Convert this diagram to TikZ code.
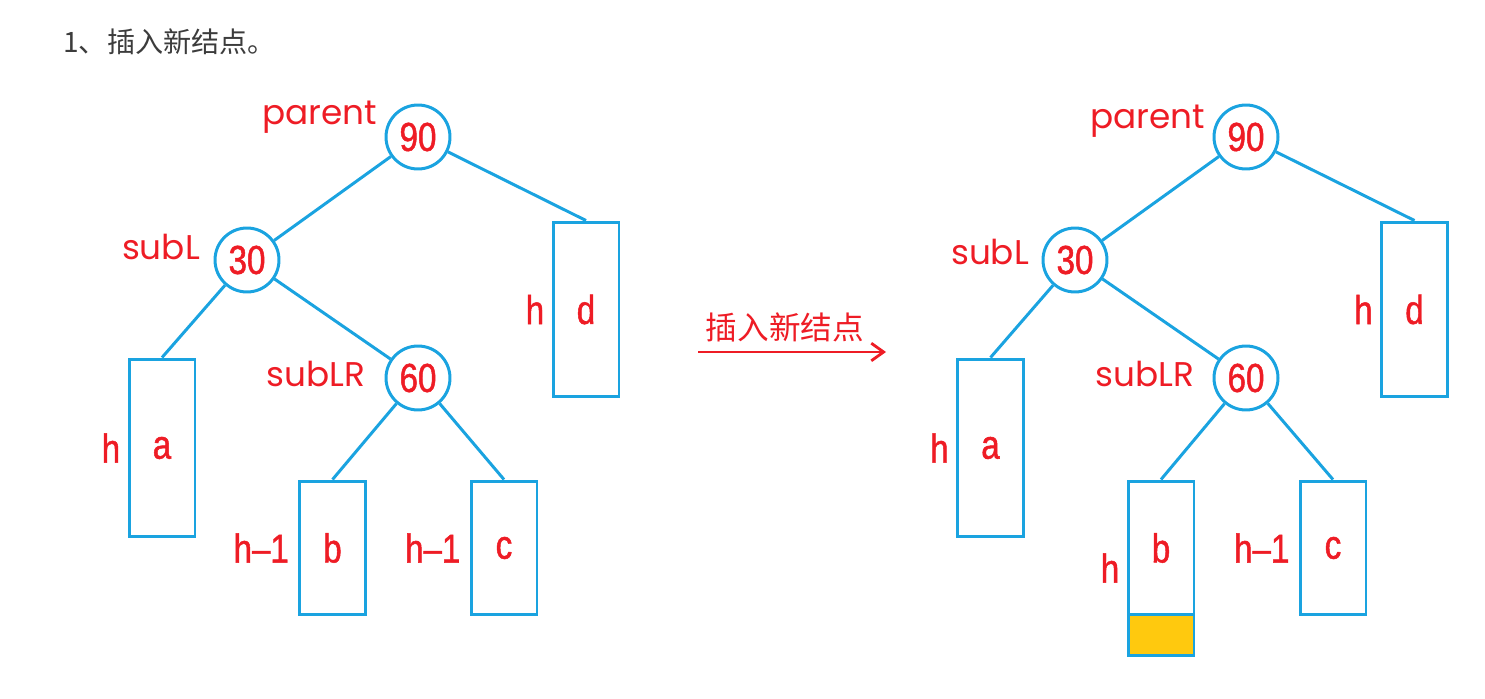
\documentclass[tikz,border=0pt]{standalone}
\usepackage{fontspec}
\usetikzlibrary{positioning,arrows.meta}
\newfontfamily\cjk{Noto Sans CJK SC}
\newfontfamily\numfont[FakeStretch=0.82,FakeBold=1.2]{Liberation Sans}
\newfontfamily\tagfont{Poppins}
\definecolor{treeblue}{HTML}{1AA3E0}
\definecolor{treered}{HTML}{EE1C25}
\definecolor{newyellow}{HTML}{FFC90E}
\definecolor{titlegray}{HTML}{3C3C3C}

\begin{document}
\begin{tikzpicture}[
    x=0.02cm, y=-0.02cm,
    keynode/.style={
        circle,
        draw=treeblue,
        line width=1.7pt,
        minimum size=1.28cm,
        inner sep=0pt,
        text=treered,
        font=\numfont\fontsize{23}{24}\selectfont
    },
    subtree/.style={
        rectangle,
        draw=treeblue,
        line width=1.7pt,
        minimum width=1.32cm,
        inner sep=0pt,
        text=treered,
        font=\numfont\fontsize{23}{24}\selectfont
    },
    height/.style={
        inner sep=0pt,
        text=treered,
        font=\numfont\fontsize{23}{24}\selectfont
    },
    tag/.style={
        inner sep=0pt,
        text=treered,
        font=\tagfont\fontsize{19.5}{21}\selectfont
    },
    edge/.style={
        draw=treeblue,
        line width=1.7pt
    }
]
\useasboundingbox (0,0) rectangle (1485,699);

% title
\node[anchor=west, inner sep=0pt, text=titlegray, font=\cjk\fontsize{16}{18}\selectfont] (title) at (63,42) {1、插入新结点。};

% tree before insertion
\node[keynode] (parent) at (418,137) {90};
\node[keynode] (subL) at (247,260) {30};
\node[keynode] (subLR) at (418,378) {60};
\node[subtree, minimum height=3.5cm] (d) at (586,309.5) {d};
\node[subtree, minimum height=3.56cm] (a) at (162,448) {a};
\node[subtree, minimum height=2.68cm] (b) at (332.5,548) {b};
\node[subtree, minimum height=2.68cm] (c) at (504,548) {c};

\node[tag] (parenttag) at (320,117) {parent};
\node[tag] (subLtag) at (161,247) {subL};
\node[tag] (subLRtag) at (316,374) {subLR};
\node[height, left=4pt of d] (hd) {h};
\node[height, left=4pt of a] (ha) {h};
\node[height, left=5pt of b] (hb) {h–1};
\node[height, left=5pt of c] (hc) {h–1};

\draw[edge] (parent) -- (subL);
\draw[edge] (parent) -- (d.north);
\draw[edge] (subL) -- (a.north);
\draw[edge] (subL) -- (subLR);
\draw[edge] (subLR) -- (b.north);
\draw[edge] (subLR) -- (c.north);

% insertion arrow
\coordinate (insfrom) at (698,352);
\coordinate (insto) at (886,352);
\draw[treered, line width=1.6pt, -{Straight Barb[length=7pt, width=10pt]}] (insfrom) -- (insto);
\node[inner sep=0pt, text=treered, font=\cjk\fontsize{18}{20}\selectfont] (instext) at (785,327) {插入新结点};

% tree after insertion
\node[keynode] (parent2) at (1246,137) {90};
\node[keynode] (subL2) at (1075,260) {30};
\node[keynode] (subLR2) at (1246,378) {60};
\node[subtree, minimum height=3.5cm] (d2) at (1414.5,309.5) {d};
\node[subtree, minimum height=3.56cm] (a2) at (990.5,448) {a};
\node[subtree, minimum height=2.68cm] (b2) at (1161,548) {b};
\node[subtree, minimum height=2.68cm] (c2) at (1333,548) {c};
\node[subtree, minimum height=0.82cm, fill=newyellow, below=-1.7pt of b2] (newnode) {};

\node[tag] (parenttag2) at (1148,121) {parent};
\node[tag] (subLtag2) at (990,252) {subL};
\node[tag] (subLRtag2) at (1145,374) {subLR};
\node[height, left=4pt of d2] (hd2) {h};
\node[height, left=4pt of a2] (ha2) {h};
\node[height] (hb2) at (1110,568) {h};
\node[height, left=5pt of c2] (hc2) {h–1};

\draw[edge] (parent2) -- (subL2);
\draw[edge] (parent2) -- (d2.north);
\draw[edge] (subL2) -- (a2.north);
\draw[edge] (subL2) -- (subLR2);
\draw[edge] (subLR2) -- (b2.north);
\draw[edge] (subLR2) -- (c2.north);

\end{tikzpicture}
\end{document}
